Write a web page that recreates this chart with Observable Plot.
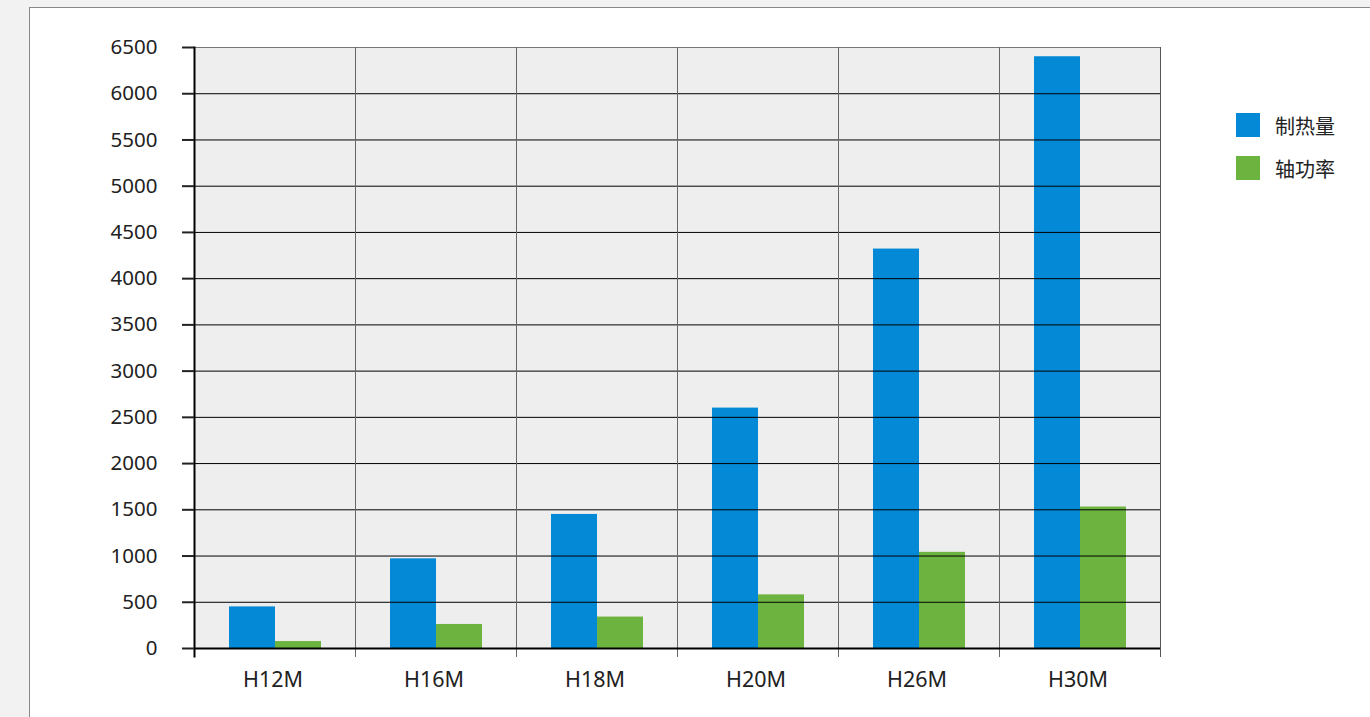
<!DOCTYPE html>
<html><head><meta charset="utf-8">
<script src="https://cdn.jsdelivr.net/npm/d3@7"></script>
<script src="https://cdn.jsdelivr.net/npm/@observablehq/plot@0.6"></script>
<style>
body{margin:0;background:#f2f2f2;width:1370px;height:717px;overflow:hidden;font-family:"Noto Sans","Noto Sans CJK SC",sans-serif;}
#panel{position:absolute;left:29px;top:7px;width:1400px;height:730px;background:#fff;border:1.5px solid #888;}
#chart{position:absolute;left:93px;top:27px;}
#legend{position:absolute;left:1236px;top:113px;font-size:20px;color:#222;}
.item{display:flex;align-items:center;height:24px;margin-bottom:19px;}
.sw{width:24px;height:24px;margin-right:15px;}
</style></head>
<body><div id="panel"></div><div id="chart"></div><div id="legend"></div>
<script>
const models = ["H12M","H16M","H18M","H20M","H26M","H30M"];
const seriesNames = ["制热量","轴功率"];
const heating = [450, 970, 1450, 2600, 4320, 6400];
const power = [75, 260, 340, 580, 1040, 1530];
const yTicks = [0,500,1000,1500,2000,2500,3000,3500,4000,4500,5000,5500,6000,6500];
const colors = ["#0389d6", "#6db33f"];

const data = models.flatMap((m, i) => [
  {model: m, series: seriesNames[0], value: heating[i]},
  {model: m, series: seriesNames[1], value: power[i]}
]);

const plot = Plot.plot({
  width: 1087, height: 671,
  marginLeft: 100, marginRight: 20, marginTop: 20, marginBottom: 50,
  style: {fontFamily: '"Noto Sans","Noto Sans CJK SC",sans-serif', fontSize: "20.5px", color: "#222", background: "transparent"},
  facet: {data, x: "model"},
  fx: {domain: models, padding: 0, label: null},
  x: {domain: seriesNames, paddingInner: 0, paddingOuter: 0.73, axis: null},
  y: {domain: [0, 6500], label: null},
  color: {domain: seriesNames, range: colors},
  marks: [
    Plot.frame({fill: "#eeeeee"}),
    Plot.barY(data, {x: "series", y: "value", fill: "series"}),
    Plot.ruleY(yTicks.filter(d => d > 0 && d < 6500), {stroke: "#000", strokeWidth: 1, facet: false}),
    Plot.frame({stroke: "#777", strokeWidth: 1}),
    Plot.frame({anchor: "left", stroke: "#666", insetBottom: -8}),
    Plot.frame({anchor: "left", facetAnchor: "left", stroke: "#000", strokeWidth: 2, insetBottom: -8}),
    Plot.frame({anchor: "right", facetAnchor: "right", stroke: "#555", insetBottom: -8}),
    Plot.ruleY([0], {stroke: "#000", strokeWidth: 2}),
    Plot.axisY({ticks: yTicks, tickSize: 12, tickPadding: 25, tickFormat: d => String(d), strokeWidth: 2}),
    Plot.axisFx({anchor: "bottom", tickSize: 0, tickPadding: 23, dx: -2, fontSize: "21.5px", label: null})
  ]
});
document.getElementById("chart").appendChild(plot);

const legend = document.getElementById("legend");
seriesNames.forEach((s, i) => {
  const item = document.createElement("div");
  item.className = "item";
  const sw = document.createElement("div");
  sw.className = "sw";
  sw.style.background = colors[i];
  const t = document.createElement("span");
  t.textContent = s;
  item.appendChild(sw); item.appendChild(t);
  legend.appendChild(item);
});
</script>
</body></html>
